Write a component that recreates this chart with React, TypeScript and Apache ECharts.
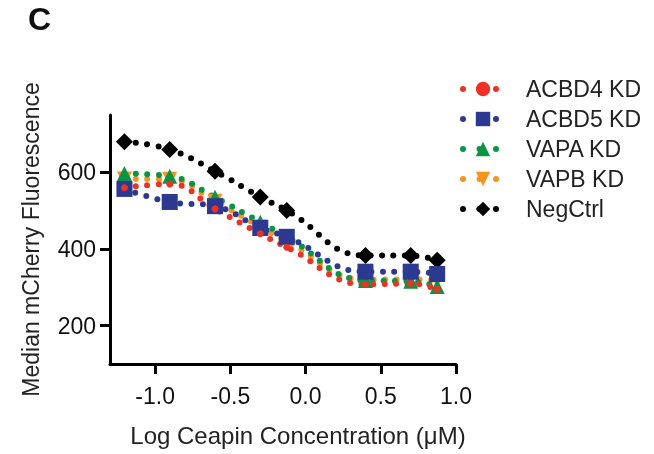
import React, { useEffect, useRef } from "react";
import * as echarts from "echarts";

const xValues = [-1.204, -0.903, -0.602, -0.301, -0.125, 0.398, 0.699, 0.875];
const acbd4 = [560, 570, 505, 440, 405, 308, 310, 295];
const acbd5 = [557, 523, 512, 455, 432, 341, 341, 335];
const vapa = [597, 590, 535, 470, 432, 318, 316, 302];
const vapb = [583, 582, 525, 458, 420, 320, 321, 318];
const negCtrl = [680, 660, 603, 536, 501, 383, 383, 371];
const xTicks = [-1, -0.5, 0, 0.5, 1];
const yTicks = [200, 400, 600];

const FONT = "'Liberation Sans', Arial, Helvetica, sans-serif";

const pairs = (ys: number[]) => xValues.map((x, i) => [x, ys[i]]);

export default function App() {
  const ref = useRef<HTMLDivElement>(null);
  useEffect(() => {
    if (!ref.current) return;
    const chart = echarts.init(ref.current, undefined, { renderer: "svg" });
    const mk = (name: string, data: number[], color: string, symbol: string, size: number, rotate = 0) => ({
      name,
      type: "line",
      data: pairs(data),
      smooth: 0.45,
      symbol,
      symbolSize: size,
      symbolRotate: rotate,
      showSymbol: true,
      itemStyle: { color },
      lineStyle: { color, width: 6, type: [0, 11.5], cap: "round" },
      emphasis: { disabled: true },
    });
    chart.setOption({
      animation: false,
      textStyle: { fontFamily: FONT },
      graphic: [
        {
          type: "text",
          left: 28,
          top: 3,
          style: { text: "C", fontSize: 32, fontWeight: "bold", fill: "#111", fontFamily: FONT },
        },
      ],
      grid: { left: 110, right: 198, top: 115, bottom: 90, containLabel: false },
      legend: {
        data: ["ACBD4 KD", "ACBD5 KD", "VAPA KD", "VAPB KD", "NegCtrl"],
        orient: "vertical",
        left: 455,
        top: 72,
        itemWidth: 40,
        itemHeight: 18,
        itemGap: 6,
        lineStyle: { width: 6, cap: "round", type: [0, 16.5] },
        textStyle: { fontSize: 23, color: "#222", fontFamily: FONT, lineHeight: 24, padding: [0, 0, 0, 18] },
      },
      xAxis: {
        type: "value",
        min: -1.3,
        max: 1,
        name: "Log Ceapin Concentration (\u03bcM)",
        nameLocation: "middle",
        nameGap: 59,
        nameTextStyle: { fontSize: 24, color: "#222", fontFamily: FONT, padding: [0, 0, 0, 30] },
        axisLine: { show: true, onZero: false, lineStyle: { color: "#000", width: 3 } },
        axisTick: { show: true, length: 10, lineStyle: { color: "#000", width: 3 }, customValues: xTicks },
        axisLabel: {
          fontSize: 23,
          color: "#111",
          margin: 20,
          fontFamily: FONT,
          customValues: xTicks,
          formatter: (v: number) => v.toFixed(1),
        },
        splitLine: { show: false },
      },
      yAxis: {
        type: "value",
        min: 100,
        max: 750,
        name: "Median mCherry Fluorescence",
        nameLocation: "middle",
        nameGap: 68,
        nameTextStyle: { fontSize: 23, color: "#222", fontFamily: FONT },
        axisLine: { show: true, onZero: false, lineStyle: { color: "#000", width: 3 } },
        axisTick: { show: true, length: 10, lineStyle: { color: "#000", width: 3 }, customValues: yTicks },
        axisLabel: { fontSize: 23, color: "#111", margin: 14, fontFamily: FONT, customValues: yTicks },
        splitLine: { show: false },
      },
      series: [
        mk("NegCtrl", negCtrl, "#000000", "diamond", 17),
        mk("VAPB KD", vapb, "#F7941D", "triangle", 15, 180),
        mk("VAPA KD", vapa, "#0B9444", "triangle", 15),
        mk("ACBD5 KD", acbd5, "#2B3990", "rect", 16),
        mk("ACBD4 KD", acbd4, "#EE3124", "circle", 7),
      ],
    });
    return () => chart.dispose();
  }, []);
  return <div ref={ref} style={{ position: "fixed", left: 0, top: 0, width: 654, height: 454 }} />;
}
